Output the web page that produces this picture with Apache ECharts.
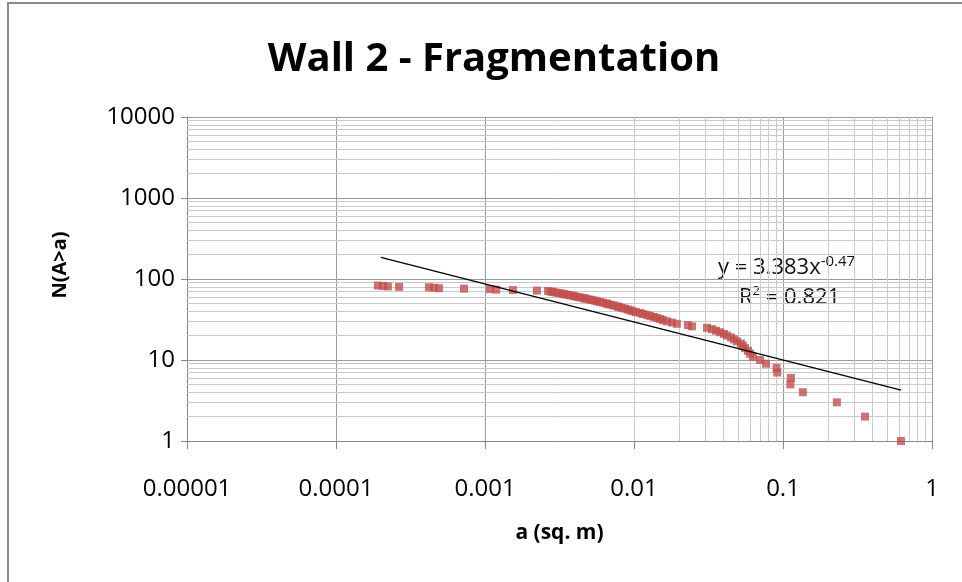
<!DOCTYPE html>
<html>
<head>
<meta charset="utf-8">
<script src="https://cdn.jsdelivr.net/npm/echarts@6/dist/echarts.min.js"></script>
<style>
  html, body { margin: 0; padding: 0; background: #fff; }
  #chart { width: 962px; height: 582px; }
</style>
</head>
<body>
<div id="chart"></div>
<script>
// fragment area a (sq. m), largest N first
const areas = [
  0.000191, 0.000207, 0.000223, 0.000265, 0.000421, 0.000455, 0.000491, 0.000723,
  0.00108, 0.00119, 0.00154, 0.00223,
  0.00265, 0.00277, 0.00286, 0.00300, 0.00314, 0.00329, 0.00339, 0.00355,
  0.00372, 0.00390, 0.00402, 0.00421, 0.00441, 0.00462, 0.00476, 0.00499,
  0.00522, 0.00547, 0.00565, 0.00591, 0.00619, 0.00649, 0.00669, 0.00701,
  0.00734, 0.00769, 0.00793, 0.00831, 0.00870, 0.00911, 0.00940, 0.00985,
  0.0103, 0.0110, 0.0115, 0.0122, 0.0128, 0.0136, 0.0143, 0.0150, 0.0157,
  0.0167, 0.0180, 0.0194, 0.0230, 0.0245, 0.0309, 0.0334, 0.0355, 0.0378, 0.0402,
  0.0421, 0.0448, 0.0469, 0.0491, 0.0522, 0.0539, 0.0556, 0.0582, 0.0600, 0.0629,
  0.0701, 0.0769, 0.0905, 0.0915, 0.113, 0.112, 0.136, 0.230, 0.355, 0.619
];
// N(A>a)
const counts = [
  83, 82, 81, 80, 79, 78, 77, 76, 75, 74, 73, 72,
  71, 70, 69, 68, 67, 66, 65, 64, 63, 62, 61, 60, 59, 58, 57, 56,
  55, 54, 53, 52, 51, 50, 49, 48, 47, 46, 45, 44, 43, 42, 41, 40,
  39, 38, 37, 36, 35, 34, 33, 32, 31,
  30, 29, 28, 27, 26, 25, 24, 23, 22, 21, 20, 19, 18, 17, 16, 15, 14, 13, 12, 11,
  10, 9, 8, 7, 6, 5, 4, 3, 2, 1
];
// power trendline y = 3.383x^-0.47, ends at the data range
const trendX = [0.0002, 0.62];
const trendY = [185, 4.24];

const xTickLabels = ['0.00001', '0.0001', '0.001', '0.01', '0.1', '1'];
const yTickLabels = ['1', '10', '100', '1000', '10000'];

const points = areas.map((a, i) => [a, counts[i]]);
const trend = trendX.map((x, i) => [x, trendY[i]]);

// minor grid lines at 2..9 of each decade
const minorX = [];
for (let e = -5; e < 0; e++) for (let k = 2; k <= 9; k++) minorX.push({ xAxis: k * Math.pow(10, e) });
const minorY = [];
for (let e = 0; e < 4; e++) for (let k = 2; k <= 9; k++) minorY.push({ yAxis: k * Math.pow(10, e) });

const font = 'Open Sans';
const chart = echarts.init(document.getElementById('chart'));
chart.setOption({
  animation: false,
  grid: { left: 187, right: 30, top: 117, bottom: 141 },
  title: {
    text: 'Wall 2 - Fragmentation',
    left: 489, top: 35, textAlign: 'center',
    textStyle: { fontFamily: font, fontSize: 40, fontWeight: 'bold', color: '#000' }
  },
  xAxis: {
    type: 'log', logBase: 10, min: 0.00001, max: 1,
    name: 'a (sq. m)', nameLocation: 'middle', nameGap: 82,
    nameTextStyle: { fontFamily: font, fontSize: 21, fontWeight: 'bold', color: '#000' },
    axisLine: { lineStyle: { color: '#868686', width: 1 } },
    axisTick: { show: true, length: 8, lineStyle: { color: '#868686' } },
    axisLabel: {
      margin: 36, fontFamily: font, fontSize: 24, color: '#000',
      formatter: v => xTickLabels[Math.round(Math.log10(v)) + 5]
    },
    splitLine: { show: true, lineStyle: { color: '#9a9a9a', width: 1 } },
    minorTick: { show: false },
    minorSplitLine: { show: false }
  },
  yAxis: {
    type: 'log', logBase: 10, min: 1, max: 10000,
    axisLine: { show: true, lineStyle: { color: '#868686', width: 1 } },
    axisTick: { show: true, length: 6, lineStyle: { color: '#868686' } },
    axisLabel: {
      margin: 12, fontFamily: font, fontSize: 24, color: '#000',
      formatter: v => yTickLabels[Math.round(Math.log10(v))]
    },
    splitLine: { show: true, lineStyle: { color: '#9a9a9a', width: 1 } },
    minorTick: { show: false },
    minorSplitLine: { show: false }
  },
  series: [
    {
      type: 'line', data: [], z: 1, silent: true,
      markLine: {
        z: 1, silent: true, symbol: ['none', 'none'], animation: false,
        label: { show: false },
        lineStyle: { color: '#cacaca', width: 1, type: 'solid' },
        data: minorX.concat(minorY)
      }
    },
    {
      type: 'scatter', data: points, z: 3,
      symbol: 'rect', symbolSize: 8,
      itemStyle: { color: '#C0504D' }
    },
    {
      type: 'line', data: trend, z: 4, symbol: 'none',
      lineStyle: { color: '#000', width: 1.3 }
    }
  ],
  graphic: [
    {
      type: 'rect', silent: true, z: -1,
      shape: { x: 8, y: 3, width: 1100, height: 1000 },
      style: { fill: 'none', stroke: '#8a8a8a', lineWidth: 2 }
    },
    {
      type: 'text', x: 60, y: 265, rotation: Math.PI / 2,
      style: {
        text: 'N(A>a)', fontFamily: font, fontSize: 20, fontWeight: 'bold',
        fill: '#000', align: 'center', verticalAlign: 'middle'
      }
    },
    {
      type: 'text', x: 718, y: 268,
      style: {
        text: '{m|y = 3.383x}{s|-0.47}',
        verticalAlign: 'middle',
        rich: {
          m: { fontFamily: font, fontSize: 22, fill: '#111' },
          s: { fontFamily: font, fontSize: 15, fill: '#111', padding: [0, 0, 13, 0] }
        }
      }
    },
    {
      type: 'text', x: 739, y: 298,
      style: {
        text: '{m|R}{s|2}{m| = 0.821}',
        verticalAlign: 'middle',
        rich: {
          m: { fontFamily: font, fontSize: 22, fill: '#111' },
          s: { fontFamily: font, fontSize: 13, fill: '#111', padding: [0, 0, 13, 0] }
        }
      }
    }
  ]
});
</script>
</body>
</html>
